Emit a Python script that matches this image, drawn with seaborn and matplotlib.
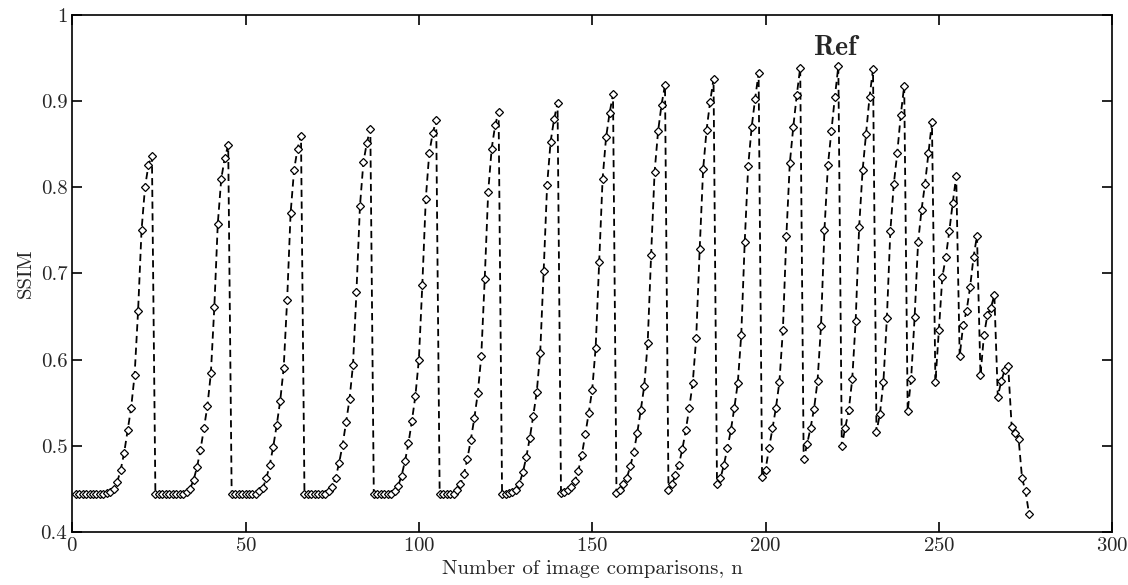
import numpy as np
import pandas as pd
import seaborn as sns
import matplotlib.pyplot as plt
from matplotlib.ticker import FuncFormatter

# SSIM values, one list per rising cycle (each ends on its peak)
cycle_01 = [0.444, 0.444, 0.444, 0.444, 0.444, 0.444, 0.444, 0.444, 0.444, 0.445, 0.446, 0.450,
            0.458, 0.472, 0.492, 0.518, 0.544, 0.582, 0.656, 0.750, 0.800, 0.826, 0.837]
cycle_02 = [0.444, 0.444, 0.444, 0.444, 0.444, 0.444, 0.444, 0.444, 0.444, 0.446, 0.450,
            0.460, 0.475, 0.495, 0.520, 0.546, 0.584, 0.661, 0.758, 0.810, 0.834, 0.849]
cycle_03 = [0.444, 0.444, 0.444, 0.444, 0.444, 0.444, 0.444, 0.444, 0.447, 0.451,
            0.462, 0.478, 0.499, 0.524, 0.552, 0.590, 0.669, 0.770, 0.820, 0.845, 0.860]
cycle_04 = [0.444, 0.444, 0.444, 0.444, 0.444, 0.444, 0.444, 0.447, 0.452,
            0.463, 0.480, 0.501, 0.527, 0.554, 0.594, 0.679, 0.778, 0.829, 0.852, 0.868]
cycle_05 = [0.444, 0.444, 0.444, 0.444, 0.444, 0.444, 0.447, 0.453,
            0.465, 0.482, 0.503, 0.529, 0.558, 0.600, 0.687, 0.787, 0.840, 0.863, 0.878]
cycle_06 = [0.444, 0.444, 0.444, 0.444, 0.444, 0.448, 0.455,
            0.467, 0.485, 0.507, 0.532, 0.561, 0.604, 0.694, 0.795, 0.845, 0.872, 0.888]
cycle_07 = [0.444, 0.444, 0.445, 0.446, 0.449, 0.456,
            0.469, 0.487, 0.509, 0.535, 0.562, 0.608, 0.703, 0.803, 0.853, 0.879, 0.898]
cycle_08 = [0.445, 0.446, 0.448, 0.452, 0.459,
            0.471, 0.489, 0.513, 0.538, 0.565, 0.614, 0.713, 0.810, 0.858, 0.886, 0.908]
cycle_09 = [0.445, 0.449, 0.455, 0.463, 0.476, 0.493, 0.515, 0.541,
            0.569, 0.619, 0.722, 0.818, 0.865, 0.896, 0.919]
cycle_10 = [0.449, 0.455, 0.466, 0.478, 0.496, 0.518, 0.544,
            0.573, 0.625, 0.728, 0.821, 0.867, 0.899, 0.926]
cycle_11 = [0.455, 0.462, 0.478, 0.497, 0.518, 0.544, 0.573,
            0.629, 0.737, 0.825, 0.870, 0.903, 0.933]
cycle_12 = [0.464, 0.472, 0.497, 0.520, 0.544, 0.574, 0.634, 0.743, 0.828, 0.870, 0.907, 0.939]
cycle_13 = [0.484, 0.502, 0.521, 0.543, 0.575, 0.639, 0.751, 0.826, 0.866, 0.905, 0.941]
cycle_14 = [0.500, 0.521, 0.541, 0.577, 0.645, 0.754, 0.820, 0.862, 0.905, 0.937]
cycle_15 = [0.516, 0.537, 0.574, 0.648, 0.749, 0.804, 0.840, 0.884, 0.918]
cycle_16 = [0.540, 0.578, 0.649, 0.736, 0.774, 0.804, 0.840, 0.876]
cycle_17 = [0.574, 0.634, 0.696, 0.719, 0.749, 0.782, 0.813]
cycle_18 = [0.604, 0.640, 0.657, 0.684, 0.719, 0.744]
cycle_19 = [0.582, 0.628, 0.652, 0.660, 0.675]
cycle_20 = [0.557, 0.575, 0.588, 0.592]
tail = [0.522, 0.515, 0.508, 0.462, 0.447, 0.421]

x_ticks = [0, 50, 100, 150, 200, 250, 300]
y_ticks = [0.4, 0.5, 0.6, 0.7, 0.8, 0.9, 1.0]

ssim = np.concatenate([cycle_01, cycle_02, cycle_03, cycle_04, cycle_05, cycle_06, cycle_07,
                       cycle_08, cycle_09, cycle_10, cycle_11, cycle_12, cycle_13, cycle_14,
                       cycle_15, cycle_16, cycle_17, cycle_18, cycle_19, cycle_20, tail])
df = pd.DataFrame({'n': np.arange(1, len(ssim) + 1), 'ssim': ssim})

sns.set_style("ticks")
plt.rcParams['font.family'] = ['cmr10', 'DejaVu Serif']
plt.rcParams['mathtext.fontset'] = 'cm'
plt.rcParams['axes.formatter.use_mathtext'] = True

fig = plt.figure(figsize=(11.28, 5.85), dpi=100)
ax = fig.add_axes([0.064, 0.091, 0.922, 0.883])

sns.lineplot(data=df, x='n', y='ssim', ax=ax, color='black', linestyle='--', linewidth=1.3,
             dashes=False, marker='D', markersize=4.5, markerfacecolor='white',
             markeredgecolor='black', markeredgewidth=0.9)
ax.lines[0].set_dashes([4, 2.5])

ax.set_xlim(0, 300)
ax.set_ylim(0.4, 1.0)
ax.set_xticks(x_ticks)
ax.set_yticks(y_ticks)
ax.yaxis.set_major_formatter(FuncFormatter(lambda v, p: f'{v:g}'))
ax.tick_params(direction='in', length=7, width=1.4, labelsize=15, top=True, right=True)
for s in ax.spines.values():
    s.set_linewidth(1.2)
    s.set_color('black')

ax.set_xlabel('Number of image comparisons, n', fontsize=15, labelpad=4)
ax.set_ylabel('SSIM', fontsize=15, labelpad=4)
ax.text(220, 0.962, 'Ref', fontsize=20, family='cmb10', ha='center', va='center')

plt.savefig('out.png', dpi=100)
